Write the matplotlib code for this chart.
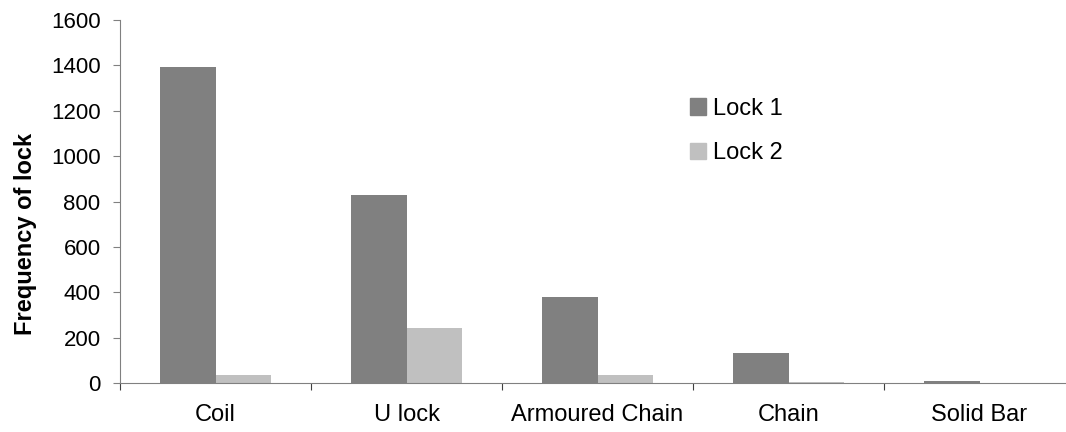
import numpy as np
import matplotlib
matplotlib.use("Agg")
import matplotlib.pyplot as plt
from matplotlib.patches import Patch

plt.rcParams['font.family'] = ['Liberation Sans', 'DejaVu Sans']

# Data
categories = ['Coil', 'U lock', 'Armoured Chain', 'Chain', 'Solid Bar']
lock1 = [1395, 830, 381, 132, 7]
lock2 = [34, 244, 34, 6, 1]

fig = plt.figure(figsize=(10.66, 4.32), dpi=100)
# axes runs slightly past the right edge, as in the source image
ax = fig.add_axes([120 / 1066, 1 - 383 / 432, 955 / 1066, 363 / 432])

x = np.arange(len(categories))
w = 0.29
ax.bar(x - w / 2, lock1, w, color='#808080', label='Lock 1')
ax.bar(x + w / 2, lock2, w, color='#c0c0c0', label='Lock 2')

ax.set_xlim(-0.5, len(categories) - 0.5)
ax.set_ylim(0, 1600)
ax.set_yticks(range(0, 1601, 200))

# category labels centred, ticks at the boundaries
ax.set_xticks(np.arange(-0.5, len(categories), 1))
ax.set_xticklabels([])
ax.set_xticks(x, minor=True)
ax.set_xticklabels(categories, minor=True)
ax.tick_params(axis='x', which='minor', length=0, pad=15, labelsize=17)
ax.tick_params(axis='x', which='major', length=5, color='#404040', direction='out')
ax.tick_params(axis='y', length=5, color='#808080', labelsize=16, pad=9)

for s in ['top', 'right']:
    ax.spines[s].set_visible(False)
ax.spines['left'].set_color('#808080')
ax.spines['bottom'].set_color('#808080')

ax.set_ylabel('Frequency of lock', fontsize=17, fontweight='bold')
ax.yaxis.set_label_coords(-0.087, 0.412)

handles = [Patch(color='#808080', label='Lock 1'), Patch(color='#c0c0c0', label='Lock 2')]
ax.legend(handles=handles, loc='center left',
          bbox_to_anchor=(690 / 1066, 1 - 131 / 432), bbox_transform=fig.transFigure,
          frameon=False, fontsize=17, borderpad=0, borderaxespad=0,
          handlelength=0.68, handleheight=0.68, handletextpad=0.3, labelspacing=0.95)

fig.savefig('out.png', dpi=100)
